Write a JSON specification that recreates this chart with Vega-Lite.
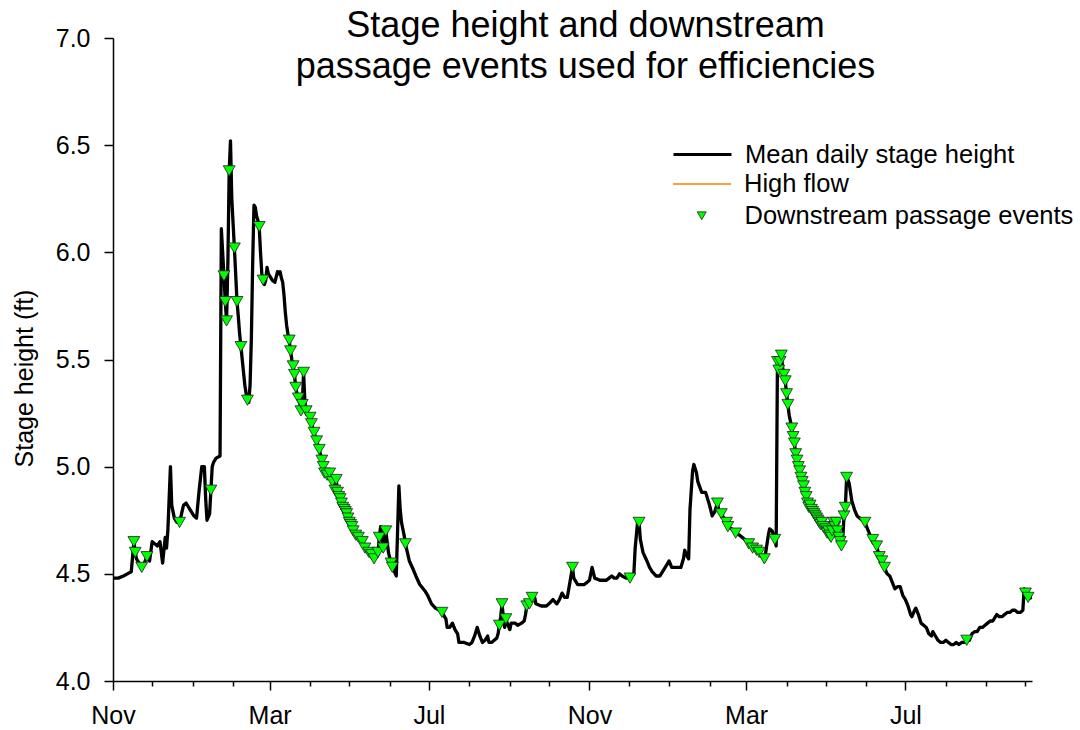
{
  "$schema": "https://vega.github.io/schema/vega-lite/v6.json",
  "width": 919,
  "height": 643,
  "autosize": "none",
  "padding": {"left": 113, "top": 38, "right": 48, "bottom": 49},
  "background": "white",
  "config": {"font": "Liberation Sans", "view": {"stroke": null}},
  "title": {"text": ["Stage height and downstream", "passage events used for efficiencies"], "fontSize": 36, "font": "Liberation Sans", "fontWeight": "normal", "color": "black", "anchor": "middle", "frame": "group", "baseline": "top", "offset": -60, "dx": 13, "lineHeight": 41},
  "datasets": {
    "stage": [
      {"date":"2013-11-01","ft":4.48},{"date":"2013-11-05","ft":4.48},{"date":"2013-11-09","ft":4.49},{"date":"2013-11-12","ft":4.50},{"date":"2013-11-15","ft":4.51},{"date":"2013-11-16","ft":4.58},{"date":"2013-11-17","ft":4.65},{"date":"2013-11-18","ft":4.60},{"date":"2013-11-19","ft":4.57},{"date":"2013-11-21","ft":4.55},{"date":"2013-11-23","ft":4.53},{"date":"2013-11-25","ft":4.55},{"date":"2013-11-27","ft":4.58},{"date":"2013-11-29","ft":4.56},
      {"date":"2013-12-01","ft":4.65},{"date":"2013-12-03","ft":4.64},{"date":"2013-12-05","ft":4.63},{"date":"2013-12-07","ft":4.65},{"date":"2013-12-08","ft":4.60},{"date":"2013-12-09","ft":4.55},{"date":"2013-12-11","ft":4.67},{"date":"2013-12-12","ft":4.62},{"date":"2013-12-13","ft":4.70},{"date":"2013-12-15","ft":5.00},{"date":"2013-12-16","ft":4.82},{"date":"2013-12-18","ft":4.76},{"date":"2013-12-20","ft":4.74},{"date":"2013-12-22","ft":4.74},{"date":"2013-12-25","ft":4.82},{"date":"2013-12-27","ft":4.83},{"date":"2013-12-28","ft":4.82},{"date":"2013-12-30","ft":4.80},
      {"date":"2014-01-02","ft":4.77},{"date":"2014-01-04","ft":4.76},{"date":"2014-01-06","ft":4.89},{"date":"2014-01-08","ft":5.00},{"date":"2014-01-10","ft":5.00},{"date":"2014-01-11","ft":4.85},{"date":"2014-01-12","ft":4.75},{"date":"2014-01-14","ft":4.78},{"date":"2014-01-15","ft":4.89},{"date":"2014-01-16","ft":5.00},{"date":"2014-01-17","ft":5.02},{"date":"2014-01-19","ft":5.04},{"date":"2014-01-22","ft":5.05},{"date":"2014-01-23","ft":6.11},{"date":"2014-01-24","ft":6.00},{"date":"2014-01-25","ft":5.89},{"date":"2014-01-26","ft":5.77},{"date":"2014-01-27","ft":5.68},{"date":"2014-01-28","ft":5.95},{"date":"2014-01-29","ft":6.38},{"date":"2014-01-30","ft":6.52},{"date":"2014-01-31","ft":6.25},
      {"date":"2014-02-02","ft":6.02},{"date":"2014-02-04","ft":5.77},{"date":"2014-02-05","ft":5.70},{"date":"2014-02-06","ft":5.62},{"date":"2014-02-07","ft":5.56},{"date":"2014-02-08","ft":5.50},{"date":"2014-02-09","ft":5.44},{"date":"2014-02-10","ft":5.38},{"date":"2014-02-11","ft":5.34},{"date":"2014-02-12","ft":5.31},{"date":"2014-02-13","ft":5.30},{"date":"2014-02-14","ft":5.38},{"date":"2014-02-15","ft":5.60},{"date":"2014-02-16","ft":5.95},{"date":"2014-02-17","ft":6.22},{"date":"2014-02-18","ft":6.21},{"date":"2014-02-19","ft":6.17},{"date":"2014-02-20","ft":6.15},{"date":"2014-02-21","ft":6.12},{"date":"2014-02-22","ft":6.00},{"date":"2014-02-23","ft":5.90},{"date":"2014-02-24","ft":5.87},{"date":"2014-02-25","ft":5.85},{"date":"2014-02-26","ft":5.87},{"date":"2014-02-27","ft":5.93},{"date":"2014-02-28","ft":5.90},
      {"date":"2014-03-01","ft":5.89},{"date":"2014-03-03","ft":5.87},{"date":"2014-03-05","ft":5.86},{"date":"2014-03-07","ft":5.91},{"date":"2014-03-08","ft":5.90},{"date":"2014-03-09","ft":5.91},{"date":"2014-03-10","ft":5.88},{"date":"2014-03-11","ft":5.86},{"date":"2014-03-12","ft":5.80},{"date":"2014-03-13","ft":5.72},{"date":"2014-03-14","ft":5.66},{"date":"2014-03-15","ft":5.62},{"date":"2014-03-16","ft":5.59},{"date":"2014-03-17","ft":5.54},{"date":"2014-03-18","ft":5.50},{"date":"2014-03-19","ft":5.47},{"date":"2014-03-20","ft":5.43},{"date":"2014-03-21","ft":5.37},{"date":"2014-03-22","ft":5.34},{"date":"2014-03-23","ft":5.32},{"date":"2014-03-24","ft":5.30},{"date":"2014-03-25","ft":5.26},{"date":"2014-03-26","ft":5.29},{"date":"2014-03-27","ft":5.44},{"date":"2014-03-28","ft":5.30},{"date":"2014-03-29","ft":5.26},{"date":"2014-03-30","ft":5.25},{"date":"2014-03-31","ft":5.24},
      {"date":"2014-04-01","ft":5.23},{"date":"2014-04-02","ft":5.20},{"date":"2014-04-03","ft":5.18},{"date":"2014-04-04","ft":5.16},{"date":"2014-04-06","ft":5.12},{"date":"2014-04-08","ft":5.08},{"date":"2014-04-10","ft":5.03},{"date":"2014-04-11","ft":5.00},{"date":"2014-04-12","ft":4.97},{"date":"2014-04-14","ft":4.96},{"date":"2014-04-16","ft":4.97},{"date":"2014-04-18","ft":4.93},{"date":"2014-04-20","ft":4.89},{"date":"2014-04-21","ft":4.94},{"date":"2014-04-22","ft":4.88},{"date":"2014-04-23","ft":4.86},{"date":"2014-04-24","ft":4.85},{"date":"2014-04-25","ft":4.83},{"date":"2014-04-26","ft":4.81},{"date":"2014-04-27","ft":4.80},{"date":"2014-04-28","ft":4.79},{"date":"2014-04-29","ft":4.78},{"date":"2014-04-30","ft":4.76},
      {"date":"2014-05-01","ft":4.74},{"date":"2014-05-02","ft":4.73},{"date":"2014-05-03","ft":4.72},{"date":"2014-05-04","ft":4.70},{"date":"2014-05-06","ft":4.68},{"date":"2014-05-08","ft":4.67},{"date":"2014-05-09","ft":4.67},{"date":"2014-05-11","ft":4.65},{"date":"2014-05-13","ft":4.62},{"date":"2014-05-16","ft":4.60},{"date":"2014-05-18","ft":4.59},{"date":"2014-05-20","ft":4.57},{"date":"2014-05-22","ft":4.58},{"date":"2014-05-23","ft":4.60},{"date":"2014-05-24","ft":4.67},{"date":"2014-05-25","ft":4.72},{"date":"2014-05-26","ft":4.70},{"date":"2014-05-27","ft":4.62},{"date":"2014-05-28","ft":4.65},{"date":"2014-05-29","ft":4.70},{"date":"2014-05-30","ft":4.65},{"date":"2014-05-31","ft":4.60},
      {"date":"2014-06-02","ft":4.55},{"date":"2014-06-03","ft":4.53},{"date":"2014-06-04","ft":4.52},{"date":"2014-06-06","ft":4.49},{"date":"2014-06-07","ft":4.70},{"date":"2014-06-08","ft":4.91},{"date":"2014-06-09","ft":4.80},{"date":"2014-06-10","ft":4.74},{"date":"2014-06-12","ft":4.68},{"date":"2014-06-13","ft":4.64},{"date":"2014-06-16","ft":4.56},{"date":"2014-06-19","ft":4.52},{"date":"2014-06-21","ft":4.49},{"date":"2014-06-24","ft":4.45},{"date":"2014-06-28","ft":4.42},{"date":"2014-06-30","ft":4.40},
      {"date":"2014-07-03","ft":4.36},{"date":"2014-07-06","ft":4.34},{"date":"2014-07-09","ft":4.33},{"date":"2014-07-11","ft":4.32},{"date":"2014-07-14","ft":4.29},{"date":"2014-07-15","ft":4.25},{"date":"2014-07-17","ft":4.25},{"date":"2014-07-19","ft":4.27},{"date":"2014-07-21","ft":4.24},{"date":"2014-07-23","ft":4.22},{"date":"2014-07-24","ft":4.18},{"date":"2014-07-28","ft":4.18},
      {"date":"2014-08-01","ft":4.17},{"date":"2014-08-03","ft":4.18},{"date":"2014-08-05","ft":4.21},{"date":"2014-08-07","ft":4.25},{"date":"2014-08-09","ft":4.21},{"date":"2014-08-11","ft":4.18},{"date":"2014-08-13","ft":4.19},{"date":"2014-08-15","ft":4.21},{"date":"2014-08-16","ft":4.18},{"date":"2014-08-18","ft":4.18},{"date":"2014-08-20","ft":4.19},{"date":"2014-08-22","ft":4.20},{"date":"2014-08-23","ft":4.22},{"date":"2014-08-24","ft":4.26},{"date":"2014-08-25","ft":4.30},{"date":"2014-08-26","ft":4.36},{"date":"2014-08-27","ft":4.30},{"date":"2014-08-28","ft":4.25},{"date":"2014-08-29","ft":4.29},{"date":"2014-08-30","ft":4.27},
      {"date":"2014-09-01","ft":4.24},{"date":"2014-09-02","ft":4.27},{"date":"2014-09-05","ft":4.27},{"date":"2014-09-07","ft":4.26},{"date":"2014-09-10","ft":4.27},{"date":"2014-09-12","ft":4.28},{"date":"2014-09-13","ft":4.31},{"date":"2014-09-14","ft":4.35},{"date":"2014-09-16","ft":4.36},{"date":"2014-09-18","ft":4.39},{"date":"2014-09-20","ft":4.39},{"date":"2014-09-21","ft":4.36},{"date":"2014-09-25","ft":4.35},{"date":"2014-09-29","ft":4.35},
      {"date":"2014-10-01","ft":4.36},{"date":"2014-10-04","ft":4.38},{"date":"2014-10-07","ft":4.36},{"date":"2014-10-09","ft":4.38},{"date":"2014-10-11","ft":4.41},{"date":"2014-10-13","ft":4.39},{"date":"2014-10-15","ft":4.39},{"date":"2014-10-17","ft":4.46},{"date":"2014-10-19","ft":4.53},{"date":"2014-10-20","ft":4.48},{"date":"2014-10-23","ft":4.45},{"date":"2014-10-26","ft":4.45},{"date":"2014-10-28","ft":4.45},{"date":"2014-10-30","ft":4.46},
      {"date":"2014-11-01","ft":4.47},{"date":"2014-11-03","ft":4.53},{"date":"2014-11-05","ft":4.48},{"date":"2014-11-09","ft":4.47},{"date":"2014-11-12","ft":4.47},{"date":"2014-11-14","ft":4.47},{"date":"2014-11-16","ft":4.48},{"date":"2014-11-18","ft":4.49},{"date":"2014-11-20","ft":4.48},{"date":"2014-11-22","ft":4.48},{"date":"2014-11-24","ft":4.50},{"date":"2014-11-26","ft":4.49},{"date":"2014-11-29","ft":4.48},
      {"date":"2014-12-02","ft":4.48},{"date":"2014-12-05","ft":4.50},{"date":"2014-12-06","ft":4.62},{"date":"2014-12-08","ft":4.75},{"date":"2014-12-09","ft":4.74},{"date":"2014-12-10","ft":4.66},{"date":"2014-12-12","ft":4.60},{"date":"2014-12-15","ft":4.56},{"date":"2014-12-17","ft":4.53},{"date":"2014-12-19","ft":4.51},{"date":"2014-12-22","ft":4.49},{"date":"2014-12-25","ft":4.49},{"date":"2014-12-27","ft":4.51},{"date":"2014-12-29","ft":4.53},{"date":"2014-12-31","ft":4.55},
      {"date":"2015-01-01","ft":4.56},{"date":"2015-01-03","ft":4.53},{"date":"2015-01-06","ft":4.53},{"date":"2015-01-09","ft":4.53},{"date":"2015-01-10","ft":4.53},{"date":"2015-01-12","ft":4.57},{"date":"2015-01-13","ft":4.61},{"date":"2015-01-15","ft":4.58},{"date":"2015-01-16","ft":4.57},{"date":"2015-01-17","ft":4.80},{"date":"2015-01-19","ft":4.98},{"date":"2015-01-20","ft":5.01},{"date":"2015-01-22","ft":4.97},{"date":"2015-01-23","ft":4.93},{"date":"2015-01-26","ft":4.88},{"date":"2015-01-28","ft":4.88},{"date":"2015-01-29","ft":4.88},
      {"date":"2015-02-01","ft":4.82},{"date":"2015-02-03","ft":4.77},{"date":"2015-02-05","ft":4.79},{"date":"2015-02-07","ft":4.83},{"date":"2015-02-08","ft":4.80},{"date":"2015-02-10","ft":4.78},{"date":"2015-02-12","ft":4.76},{"date":"2015-02-14","ft":4.74},{"date":"2015-02-15","ft":4.72},{"date":"2015-02-18","ft":4.71},{"date":"2015-02-21","ft":4.69},{"date":"2015-02-24","ft":4.68},{"date":"2015-02-26","ft":4.67},{"date":"2015-02-28","ft":4.66},
      {"date":"2015-03-03","ft":4.64},{"date":"2015-03-06","ft":4.62},{"date":"2015-03-09","ft":4.61},{"date":"2015-03-11","ft":4.60},{"date":"2015-03-13","ft":4.58},{"date":"2015-03-15","ft":4.57},{"date":"2015-03-16","ft":4.60},{"date":"2015-03-18","ft":4.68},{"date":"2015-03-19","ft":4.71},{"date":"2015-03-21","ft":4.70},{"date":"2015-03-23","ft":4.66},{"date":"2015-03-24","ft":4.63},{"date":"2015-03-25","ft":5.49},{"date":"2015-03-26","ft":5.45},{"date":"2015-03-27","ft":5.49},{"date":"2015-03-28","ft":5.52},{"date":"2015-03-29","ft":5.46},{"date":"2015-03-30","ft":5.43},{"date":"2015-03-31","ft":5.40},
      {"date":"2015-04-01","ft":5.34},{"date":"2015-04-02","ft":5.29},{"date":"2015-04-03","ft":5.24},{"date":"2015-04-04","ft":5.21},{"date":"2015-04-05","ft":5.18},{"date":"2015-04-06","ft":5.14},{"date":"2015-04-07","ft":5.11},{"date":"2015-04-08","ft":5.06},{"date":"2015-04-09","ft":5.03},{"date":"2015-04-10","ft":5.00},{"date":"2015-04-11","ft":4.98},{"date":"2015-04-12","ft":4.95},{"date":"2015-04-13","ft":4.93},{"date":"2015-04-14","ft":4.91},{"date":"2015-04-15","ft":4.88},{"date":"2015-04-16","ft":4.86},{"date":"2015-04-17","ft":4.83},{"date":"2015-04-18","ft":4.81},{"date":"2015-04-19","ft":4.82},{"date":"2015-04-20","ft":4.80},{"date":"2015-04-21","ft":4.79},{"date":"2015-04-22","ft":4.78},{"date":"2015-04-23","ft":4.77},{"date":"2015-04-24","ft":4.76},{"date":"2015-04-25","ft":4.75},{"date":"2015-04-26","ft":4.74},{"date":"2015-04-27","ft":4.73},{"date":"2015-04-28","ft":4.74},{"date":"2015-04-29","ft":4.72},{"date":"2015-04-30","ft":4.70},
      {"date":"2015-05-01","ft":4.71},{"date":"2015-05-02","ft":4.69},{"date":"2015-05-03","ft":4.70},{"date":"2015-05-04","ft":4.68},{"date":"2015-05-05","ft":4.67},{"date":"2015-05-06","ft":4.70},{"date":"2015-05-07","ft":4.74},{"date":"2015-05-08","ft":4.72},{"date":"2015-05-09","ft":4.74},{"date":"2015-05-10","ft":4.70},{"date":"2015-05-11","ft":4.67},{"date":"2015-05-12","ft":4.65},{"date":"2015-05-13","ft":4.63},{"date":"2015-05-14","ft":4.66},{"date":"2015-05-15","ft":4.77},{"date":"2015-05-16","ft":4.81},{"date":"2015-05-17","ft":4.95},{"date":"2015-05-18","ft":4.94},{"date":"2015-05-19","ft":4.92},{"date":"2015-05-20","ft":4.88},{"date":"2015-05-21","ft":4.84},{"date":"2015-05-22","ft":4.82},{"date":"2015-05-23","ft":4.80},{"date":"2015-05-25","ft":4.77},{"date":"2015-05-27","ft":4.76},{"date":"2015-05-29","ft":4.75},{"date":"2015-05-31","ft":4.74},
      {"date":"2015-06-02","ft":4.71},{"date":"2015-06-04","ft":4.68},{"date":"2015-06-06","ft":4.66},{"date":"2015-06-09","ft":4.63},{"date":"2015-06-11","ft":4.58},{"date":"2015-06-13","ft":4.56},{"date":"2015-06-15","ft":4.53},{"date":"2015-06-17","ft":4.50},{"date":"2015-06-19","ft":4.49},{"date":"2015-06-21","ft":4.46},{"date":"2015-06-23","ft":4.43},{"date":"2015-06-25","ft":4.44},{"date":"2015-06-27","ft":4.44},{"date":"2015-06-29","ft":4.40},
      {"date":"2015-07-01","ft":4.38},{"date":"2015-07-03","ft":4.35},{"date":"2015-07-05","ft":4.31},{"date":"2015-07-06","ft":4.30},{"date":"2015-07-08","ft":4.33},{"date":"2015-07-09","ft":4.34},{"date":"2015-07-11","ft":4.31},{"date":"2015-07-13","ft":4.27},{"date":"2015-07-15","ft":4.26},{"date":"2015-07-17","ft":4.25},{"date":"2015-07-19","ft":4.22},{"date":"2015-07-21","ft":4.21},{"date":"2015-07-22","ft":4.23},{"date":"2015-07-24","ft":4.21},{"date":"2015-07-26","ft":4.19},{"date":"2015-07-28","ft":4.18},{"date":"2015-07-30","ft":4.18},
      {"date":"2015-08-01","ft":4.19},{"date":"2015-08-03","ft":4.18},{"date":"2015-08-05","ft":4.17},{"date":"2015-08-07","ft":4.17},{"date":"2015-08-09","ft":4.18},{"date":"2015-08-11","ft":4.17},{"date":"2015-08-13","ft":4.18},{"date":"2015-08-15","ft":4.18},{"date":"2015-08-17","ft":4.19},{"date":"2015-08-19","ft":4.19},{"date":"2015-08-21","ft":4.22},{"date":"2015-08-23","ft":4.23},{"date":"2015-08-25","ft":4.23},{"date":"2015-08-27","ft":4.25},{"date":"2015-08-29","ft":4.25},{"date":"2015-08-31","ft":4.26},
      {"date":"2015-09-02","ft":4.27},{"date":"2015-09-04","ft":4.28},{"date":"2015-09-06","ft":4.28},{"date":"2015-09-08","ft":4.30},{"date":"2015-09-09","ft":4.31},{"date":"2015-09-11","ft":4.30},{"date":"2015-09-13","ft":4.30},{"date":"2015-09-15","ft":4.31},{"date":"2015-09-17","ft":4.32},{"date":"2015-09-19","ft":4.32},{"date":"2015-09-21","ft":4.33},{"date":"2015-09-23","ft":4.33},{"date":"2015-09-25","ft":4.32},{"date":"2015-09-27","ft":4.32},{"date":"2015-09-29","ft":4.33},{"date":"2015-09-30","ft":4.43},
      {"date":"2015-10-01","ft":4.41},{"date":"2015-10-02","ft":4.40},{"date":"2015-10-03","ft":4.39},{"date":"2015-10-04","ft":4.40},{"date":"2015-10-05","ft":4.38}
    ],
    "events": [
      {"date":"2013-11-17","ft":4.65},{"date":"2013-11-18","ft":4.60},{"date":"2013-11-23","ft":4.53},{"date":"2013-11-27","ft":4.58},{"date":"2013-12-22","ft":4.74},{"date":"2014-01-15","ft":4.89},{"date":"2014-01-25","ft":5.89},{"date":"2014-01-26","ft":5.77},{"date":"2014-01-27","ft":5.68},{"date":"2014-01-29","ft":6.38},{"date":"2014-02-02","ft":6.02},{"date":"2014-02-04","ft":5.77},{"date":"2014-02-07","ft":5.56},{"date":"2014-02-12","ft":5.31},{"date":"2014-02-21","ft":6.12},{"date":"2014-02-24","ft":5.87},
      {"date":"2014-03-16","ft":5.59},{"date":"2014-03-17","ft":5.54},{"date":"2014-03-19","ft":5.47},{"date":"2014-03-20","ft":5.43},{"date":"2014-03-21","ft":5.37},{"date":"2014-03-23","ft":5.32},{"date":"2014-03-25","ft":5.26},{"date":"2014-03-26","ft":5.29},{"date":"2014-03-27","ft":5.44},{"date":"2014-03-29","ft":5.26},{"date":"2014-04-01","ft":5.23},{"date":"2014-04-02","ft":5.20},{"date":"2014-04-04","ft":5.16},{"date":"2014-04-06","ft":5.12},{"date":"2014-04-08","ft":5.08},{"date":"2014-04-10","ft":5.03},{"date":"2014-04-11","ft":5.00},{"date":"2014-04-12","ft":4.97},{"date":"2014-04-14","ft":4.96},{"date":"2014-04-16","ft":4.97},{"date":"2014-04-18","ft":4.93},{"date":"2014-04-20","ft":4.89},{"date":"2014-04-21","ft":4.94},{"date":"2014-04-22","ft":4.88},{"date":"2014-04-23","ft":4.86},{"date":"2014-04-24","ft":4.85},{"date":"2014-04-25","ft":4.83},{"date":"2014-04-26","ft":4.81},{"date":"2014-04-27","ft":4.80},{"date":"2014-04-28","ft":4.79},{"date":"2014-04-29","ft":4.78},{"date":"2014-04-30","ft":4.76},
      {"date":"2014-05-01","ft":4.74},{"date":"2014-05-02","ft":4.73},{"date":"2014-05-03","ft":4.72},{"date":"2014-05-04","ft":4.70},{"date":"2014-05-06","ft":4.68},{"date":"2014-05-08","ft":4.67},{"date":"2014-05-11","ft":4.65},{"date":"2014-05-13","ft":4.62},{"date":"2014-05-16","ft":4.60},{"date":"2014-05-18","ft":4.59},{"date":"2014-05-20","ft":4.57},{"date":"2014-05-23","ft":4.60},{"date":"2014-05-24","ft":4.67},{"date":"2014-05-27","ft":4.62},{"date":"2014-05-29","ft":4.70},{"date":"2014-06-02","ft":4.55},{"date":"2014-06-03","ft":4.53},{"date":"2014-06-13","ft":4.64},{"date":"2014-07-11","ft":4.32},{"date":"2014-08-24","ft":4.26},{"date":"2014-08-26","ft":4.36},{"date":"2014-08-29","ft":4.29},{"date":"2014-09-14","ft":4.35},{"date":"2014-09-16","ft":4.36},{"date":"2014-09-18","ft":4.39},{"date":"2014-10-19","ft":4.53},{"date":"2014-12-02","ft":4.48},{"date":"2014-12-09","ft":4.74},
      {"date":"2015-02-07","ft":4.83},{"date":"2015-02-10","ft":4.78},{"date":"2015-02-14","ft":4.74},{"date":"2015-02-15","ft":4.72},{"date":"2015-02-21","ft":4.69},{"date":"2015-03-03","ft":4.64},{"date":"2015-03-06","ft":4.62},{"date":"2015-03-09","ft":4.61},{"date":"2015-03-11","ft":4.60},{"date":"2015-03-15","ft":4.57},{"date":"2015-03-23","ft":4.66},{"date":"2015-03-25","ft":5.49},{"date":"2015-03-26","ft":5.45},{"date":"2015-03-27","ft":5.49},{"date":"2015-03-28","ft":5.52},{"date":"2015-03-30","ft":5.43},{"date":"2015-03-31","ft":5.40},{"date":"2015-04-01","ft":5.34},{"date":"2015-04-02","ft":5.29},{"date":"2015-04-05","ft":5.18},{"date":"2015-04-06","ft":5.14},{"date":"2015-04-07","ft":5.11},{"date":"2015-04-08","ft":5.06},{"date":"2015-04-09","ft":5.03},{"date":"2015-04-10","ft":5.00},{"date":"2015-04-11","ft":4.98},{"date":"2015-04-12","ft":4.95},{"date":"2015-04-13","ft":4.93},{"date":"2015-04-14","ft":4.91},{"date":"2015-04-15","ft":4.88},{"date":"2015-04-16","ft":4.86},{"date":"2015-04-17","ft":4.83},{"date":"2015-04-18","ft":4.81},{"date":"2015-04-19","ft":4.82},{"date":"2015-04-20","ft":4.80},{"date":"2015-04-21","ft":4.79},{"date":"2015-04-22","ft":4.78},{"date":"2015-04-23","ft":4.77},{"date":"2015-04-24","ft":4.76},{"date":"2015-04-25","ft":4.75},{"date":"2015-04-26","ft":4.74},{"date":"2015-04-27","ft":4.73},{"date":"2015-04-28","ft":4.74},{"date":"2015-04-29","ft":4.72},
      {"date":"2015-05-01","ft":4.71},{"date":"2015-05-02","ft":4.69},{"date":"2015-05-03","ft":4.70},{"date":"2015-05-04","ft":4.68},{"date":"2015-05-05","ft":4.67},{"date":"2015-05-06","ft":4.70},{"date":"2015-05-07","ft":4.74},{"date":"2015-05-08","ft":4.72},{"date":"2015-05-09","ft":4.74},{"date":"2015-05-10","ft":4.70},{"date":"2015-05-11","ft":4.67},{"date":"2015-05-12","ft":4.65},{"date":"2015-05-13","ft":4.63},{"date":"2015-05-15","ft":4.77},{"date":"2015-05-16","ft":4.81},{"date":"2015-05-17","ft":4.95},{"date":"2015-05-31","ft":4.74},{"date":"2015-06-06","ft":4.66},{"date":"2015-06-09","ft":4.63},{"date":"2015-06-11","ft":4.58},{"date":"2015-06-13","ft":4.56},{"date":"2015-06-15","ft":4.53},{"date":"2015-08-17","ft":4.19},{"date":"2015-10-01","ft":4.41},{"date":"2015-10-03","ft":4.39}
    ],
    "flow": [{"ft": 4.86}]
  },
  "encoding": {
    "x": {"field": "date", "type": "temporal",
      "scale": {"domain": [{"year": 2013, "month": 11, "date": 1}, {"year": 2015, "month": 10, "date": 6}]},
      "axis": {"title": null, "tickCount": {"interval": "month", "step": 1}, "labelExpr": "indexof([2,6,10], month(datum.value)) >= 0 ? timeFormat(datum.value, '%b') : ''", "labelFlush": false, "labelOverlap": false, "grid": false, "domainColor": "black", "domainWidth": 1.5, "tickColor": "black", "tickWidth": 1.5, "tickSize": {"condition": {"test": "indexof([2,6,10], month(datum.value)) >= 0", "value": 9}, "value": 5}, "labelFontSize": 25, "labelFont": "Liberation Sans", "labelColor": "black", "labelPadding": 13}
    },
    "y": {"field": "ft", "type": "quantitative",
      "scale": {"domain": [4, 7], "nice": false, "zero": false},
      "axis": {"title": "Stage height (ft)", "values": [4, 4.5, 5, 5.5, 6, 6.5, 7], "format": ".1f", "grid": false, "domainColor": "black", "domainWidth": 1.5, "tickColor": "black", "tickWidth": 1.5, "tickSize": 9, "labelFontSize": 25, "labelFont": "Liberation Sans", "labelColor": "black", "labelPadding": 14, "titleFontSize": 25, "titleFont": "Liberation Sans", "titleFontWeight": "normal", "titleColor": "black", "titlePadding": 18, "titleY": 340}
    }
  },
  "layer": [
    {
      "data": {"name": "stage"},
      "mark": {"type": "line", "strokeWidth": 3.3, "strokeJoin": "round"},
      "encoding": {
        "color": {"datum": "Mean daily stage height", "type": "nominal", "scale": {"range": ["#000000"]},
          "legend": {"orient": "none", "legendX": 559, "legendY": 86, "title": null, "symbolType": "stroke", "symbolSize": 3364, "symbolStrokeWidth": 3, "labelFontSize": 25.5, "labelFont": "Liberation Sans", "labelColor": "black", "labelOffset": 12, "labelLimit": 500, "padding": 0}}
      }
    },
    {
      "data": {"name": "flow"},
      "mark": {"type": "rule", "strokeWidth": 1.5},
      "encoding": {
        "stroke": {"datum": "High flow", "type": "nominal", "scale": {"range": ["#ff8000"]},
          "legend": {"orient": "none", "legendX": 559, "legendY": 116, "title": null, "symbolType": "stroke", "symbolSize": 3364, "symbolStrokeWidth": 1.5, "labelFontSize": 25.5, "labelFont": "Liberation Sans", "labelColor": "black", "labelOffset": 12, "labelLimit": 500, "padding": 0}}
      }
    },
    {
      "data": {"name": "events"},
      "mark": {"type": "point", "shape": "triangle-down", "filled": true, "size": 140, "stroke": "#1f1f1f", "strokeWidth": 0.8, "opacity": 1},
      "encoding": {
        "fill": {"datum": "Downstream passage events", "type": "nominal", "scale": {"range": ["#00ff00"]},
          "legend": {"orient": "none", "legendX": 576, "legendY": 165, "title": null, "symbolType": "triangle-down", "symbolSize": 81, "symbolStrokeColor": "#1f1f1f", "symbolStrokeWidth": 0.8, "symbolFillColor": "#00ff00", "labelFontSize": 25.5, "labelFont": "Liberation Sans", "labelColor": "black", "labelOffset": 30, "labelLimit": 500, "padding": 0}}
      }
    }
  ]
}
